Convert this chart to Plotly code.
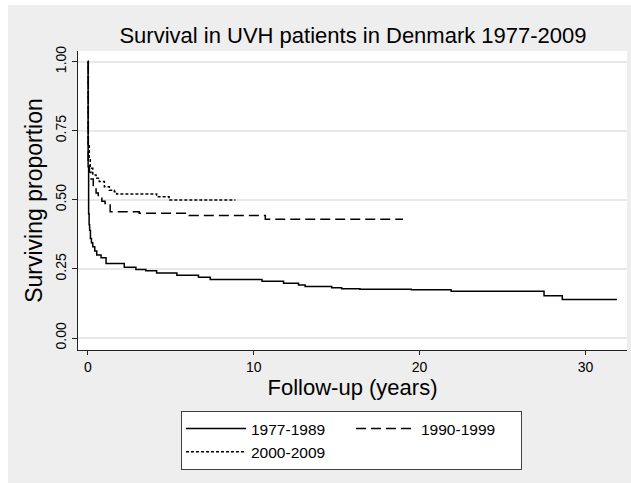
import plotly.graph_objects as go

# Kaplan-Meier survival estimates
t_1977 = [0, 0.02, 0.05, 0.08, 0.11, 0.16, 0.22, 0.3, 0.42, 0.54, 0.8, 1.1, 2.2, 2.9, 3.5,
          4.15, 5.37, 6.67, 7.38, 10.5, 11.8, 12.7, 13.1, 14.7, 15.3, 16.4, 19.5, 21.9,
          27.5, 28.6, 31.9]
s_1977 = [1.0, 0.62, 0.45, 0.41, 0.39, 0.36, 0.345, 0.33, 0.315, 0.30, 0.29, 0.27, 0.256,
          0.248, 0.243, 0.235, 0.227, 0.22, 0.212, 0.205, 0.198, 0.192, 0.186, 0.182, 0.178,
          0.176, 0.175, 0.169, 0.153, 0.139, 0.139]

t_1990 = [0, 0.03, 0.1, 0.2, 0.33, 0.5, 0.63, 0.85, 1.04, 1.35, 3.1, 6.1, 10.7, 19.0]
s_1990 = [1.0, 0.64, 0.6, 0.575, 0.547, 0.525, 0.511, 0.495, 0.487, 0.457, 0.451, 0.443,
          0.43, 0.43]

t_2000 = [0, 0.03, 0.09, 0.15, 0.3, 0.5, 0.69, 1.0, 1.3, 1.6, 1.74, 4.15, 4.9, 8.9]
s_2000 = [1.0, 0.70, 0.65, 0.614, 0.59, 0.578, 0.566, 0.547, 0.535, 0.529, 0.521, 0.511,
          0.499, 0.499]

series_names = ["1977-1989", "1990-1999", "2000-2009"]
x_ticks = [0, 10, 20, 30]
y_ticks = [0, 0.25, 0.5, 0.75, 1.0]
y_tick_labels = ["0.00", "0.25", "0.50", "0.75", "1.00"]

FONT = "Liberation Sans, Arial, sans-serif"
W, H = 631, 483
L, R, T, B = 78, 4, 51, 133
PW, PH = W - L - R, H - T - B


def px_x(p):
    return (p - L) / PW


def px_y(p):
    return (H - B - p) / PH


fig = go.Figure()
fig.add_trace(go.Scatter(x=t_1977, y=s_1977, mode="lines", name=series_names[0],
                         line=dict(color="black", width=1.5, shape="hv"),
                         legendgroup="a"))
fig.add_trace(go.Scatter(x=t_1990, y=s_1990, mode="lines", name=series_names[1],
                         line=dict(color="black", width=1.5, shape="hv", dash="10px,5px"),
                         legendgroup="b"))
fig.add_trace(go.Scatter(x=t_2000, y=s_2000, mode="lines", name=series_names[2],
                         line=dict(color="black", width=1.5, shape="hv", dash="3px,2px"),
                         legendgroup="a"))

fig.update_layout(
    width=W, height=H,
    margin=dict(l=L, r=R, t=T, b=B, autoexpand=False),
    paper_bgcolor="#eeeeee",
    plot_bgcolor="white",
    font=dict(family=FONT, color="black"),
    title=dict(text="Survival in UVH patients in Denmark 1977-2009",
               x=px_x(353), xref="paper", xanchor="center",
               y=1 - 35 / H, yref="container", yanchor="middle",
               font=dict(size=22, family=FONT, color="black")),
    showlegend=True,
    legend=dict(orientation="h", x=px_x(351.5), xanchor="center",
                y=px_y(411), yanchor="top",
                bgcolor="white", bordercolor="#404040", borderwidth=1,
                font=dict(size=15.5, family=FONT, color="black"),
                itemwidth=60, entrywidth=95, traceorder="grouped",
                tracegroupgap=0),
    shapes=[
        dict(type="rect", xref="paper", yref="paper", x0=px_x(0), x1=px_x(8),
             y0=px_y(H), y1=px_y(0), fillcolor="white", line=dict(width=0), layer="above"),
        dict(type="rect", xref="paper", yref="paper", x0=px_x(0), x1=px_x(W),
             y0=px_y(5), y1=px_y(0), fillcolor="white", line=dict(width=0), layer="above"),
    ],
)

fig.update_xaxes(range=[-0.59, 32.5], tickvals=x_ticks, ticks="outside", ticklen=4,
                 tickwidth=1.3, tickcolor="#222", showline=True, linecolor="#222",
                 linewidth=1.3, showgrid=False, zeroline=False,
                 tickfont=dict(size=14, family=FONT),
                 title=dict(text="Follow-up (years)", font=dict(size=22, family=FONT),
                            standoff=0))
fig.update_yaxes(range=[-0.0434, 1.0384], tickvals=y_ticks, ticktext=y_tick_labels,
                 ticks="outside", ticklen=5, tickwidth=1.3, tickcolor="#222",
                 showline=True, linecolor="#222", linewidth=1.3,
                 showgrid=True, gridcolor="#e8e8e8", gridwidth=1.5, zeroline=False,
                 tickangle=-90, tickfont=dict(size=14, family=FONT),
                 title=dict(text="Surviving proportion", font=dict(size=23, family=FONT),
                            standoff=4))

fig.write_html("out.html", config={"displayModeBar": False},
               post_script="document.body.style.margin='0';document.body.style.padding='0';")
